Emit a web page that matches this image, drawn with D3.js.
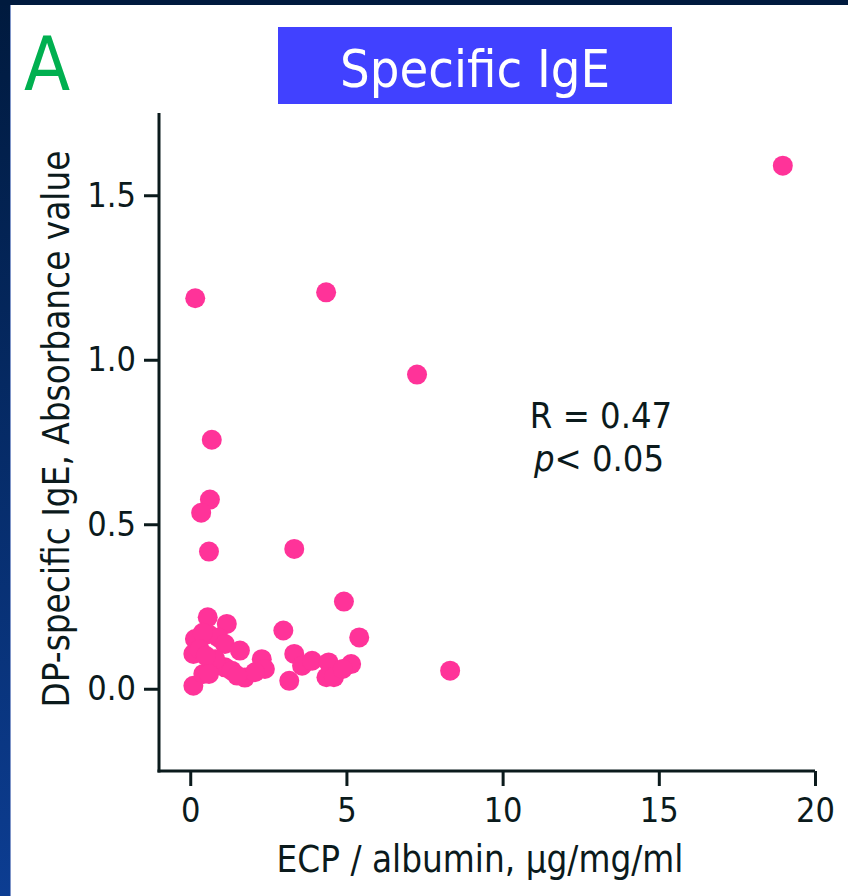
<!DOCTYPE html>
<html><head><meta charset="utf-8">
<script src="https://cdn.jsdelivr.net/npm/d3@7"></script>
<style>
html,body{margin:0;padding:0;background:#fff;}
svg{display:block;}
</style></head>
<body>
<script>
// ---- data ----
const ecpValues = [18.97,0.16,4.35,7.26,0.69,0.63,0.35,0.60,3.33,4.92,5.41,8.32,2.98,
  0.56,1.17,0.15,0.10,0.58,0.90,1.11,1.59,0.10,0.42,0.69,1.11,1.33,1.75,2.29,2.39,2.07,0.80,
  3.33,3.58,3.90,3.17,4.43,4.36,4.60,5.15,4.88,0.40,0.30,0.50,0.60,1.50];
const igeValues = [1.59,1.187,1.205,0.955,0.757,0.575,0.535,0.417,0.425,0.265,0.156,0.055,0.177,
  0.217,0.197,0.151,0.106,0.166,0.156,0.136,0.116,0.009,0.045,0.075,0.065,0.055,0.034,0.090,0.060,0.050,0.090,
  0.106,0.070,0.085,0.024,0.080,0.035,0.035,0.075,0.060,0.170,0.120,0.100,0.045,0.040];
const xTicks = [0,5,10,15,20];
const yTicks = [0,0.5,1.0,1.5];
const yTickLabels = ["0.0","0.5","1.0","1.5"];
const panelLabel = "A";
const titleText = "Specific IgE";
const xTitle = "ECP / albumin, \u03bcg/mg/ml";
const yTitle = "DP-specific IgE, Absorbance value";
const statR = "R = 0.47";
const statP = "< 0.05";

const W = 848, H = 896;
const svg = d3.select("body").append("svg").attr("width", W).attr("height", H);

// background frame
const defs = svg.append("defs");
const grad = defs.append("linearGradient").attr("id","lg").attr("x1",0).attr("y1",0).attr("x2",0).attr("y2",1);
grad.append("stop").attr("offset","0%").attr("stop-color","#001a3e");
grad.append("stop").attr("offset","100%").attr("stop-color","#0c3d92");
svg.append("rect").attr("x",0).attr("y",0).attr("width",W).attr("height",H).attr("fill","#fff");
svg.append("rect").attr("x",0).attr("y",0).attr("width",10).attr("height",H).attr("fill","url(#lg)");
svg.append("rect").attr("x",0).attr("y",0).attr("width",W).attr("height",5).attr("fill","#001a3e");
svg.append("rect").attr("x",10).attr("y",5).attr("width",1).attr("height",H-5).attr("fill","#7f95c8");

const font = "'DejaVu Sans Condensed','DejaVu Sans',sans-serif";
const ink = "#0b1a1c";

// scales
const x = d3.scaleLinear().domain([-1,20]).range([159,815]);
const y = d3.scaleLinear().domain([-0.25,1.75]).range([771,113]);

// axes
const xAxis = svg.append("g").attr("transform","translate(0,771)")
  .call(d3.axisBottom(x).tickValues(xTicks).tickSize(15).tickPadding(12).tickSizeOuter(0));
const yAxis = svg.append("g").attr("transform","translate(159,0)")
  .call(d3.axisLeft(y).tickValues(yTicks).tickFormat((d,i)=>yTickLabels[i]).tickSize(15).tickPadding(8).tickSizeOuter(0));
[xAxis,yAxis].forEach(g=>{
  g.select(".domain").attr("stroke",ink).attr("stroke-width",3);
  g.selectAll(".tick line").attr("stroke",ink).attr("stroke-width",3);
  g.selectAll(".tick text").attr("fill",ink).style("font-family",font).style("font-size","34px");
});
xAxis.select(".domain").attr("d","M157.5,0H815");
yAxis.select(".domain").attr("d","M0,113V772.5");

// axis titles
svg.append("text").attr("x",480).attr("y",872).attr("text-anchor","middle")
  .style("font-family",font).style("font-size","36.5px").attr("fill",ink).text(xTitle);
svg.append("text").attr("transform","translate(69,429) rotate(-90)").attr("text-anchor","middle")
  .style("font-family",font).style("font-size","36.5px").attr("fill",ink).text(yTitle);

// points
const pts = ecpValues.map((v,i)=>({x:v,y:igeValues[i]}));
svg.append("g").selectAll("circle").data(pts).join("circle")
  .attr("cx",d=>x(d.x)).attr("cy",d=>y(d.y)).attr("r",10).attr("fill","#ff3399");

// panel label
svg.append("text").attr("x",24).attr("y",90).style("font-family",font).style("font-size","75px")
  .attr("fill","#00b050").text(panelLabel);

// title box
svg.append("rect").attr("x",278).attr("y",27).attr("width",394).attr("height",77).attr("fill","#4141ff");
svg.append("text").attr("x",475).attr("y",87).attr("text-anchor","middle").style("font-family",font)
  .style("font-size","52px").attr("fill","#fff").text(titleText);

// stats
svg.append("text").attr("x",601).attr("y",428).attr("text-anchor","middle").style("font-family",font)
  .style("font-size","36px").attr("fill",ink).text(statR);
const pt = svg.append("text").attr("x",599).attr("y",471).attr("text-anchor","middle").style("font-family",font)
  .style("font-size","36px").attr("fill",ink);
pt.append("tspan").style("font-style","italic").text("p");
pt.append("tspan").text(statP);
</script>
</body></html>
